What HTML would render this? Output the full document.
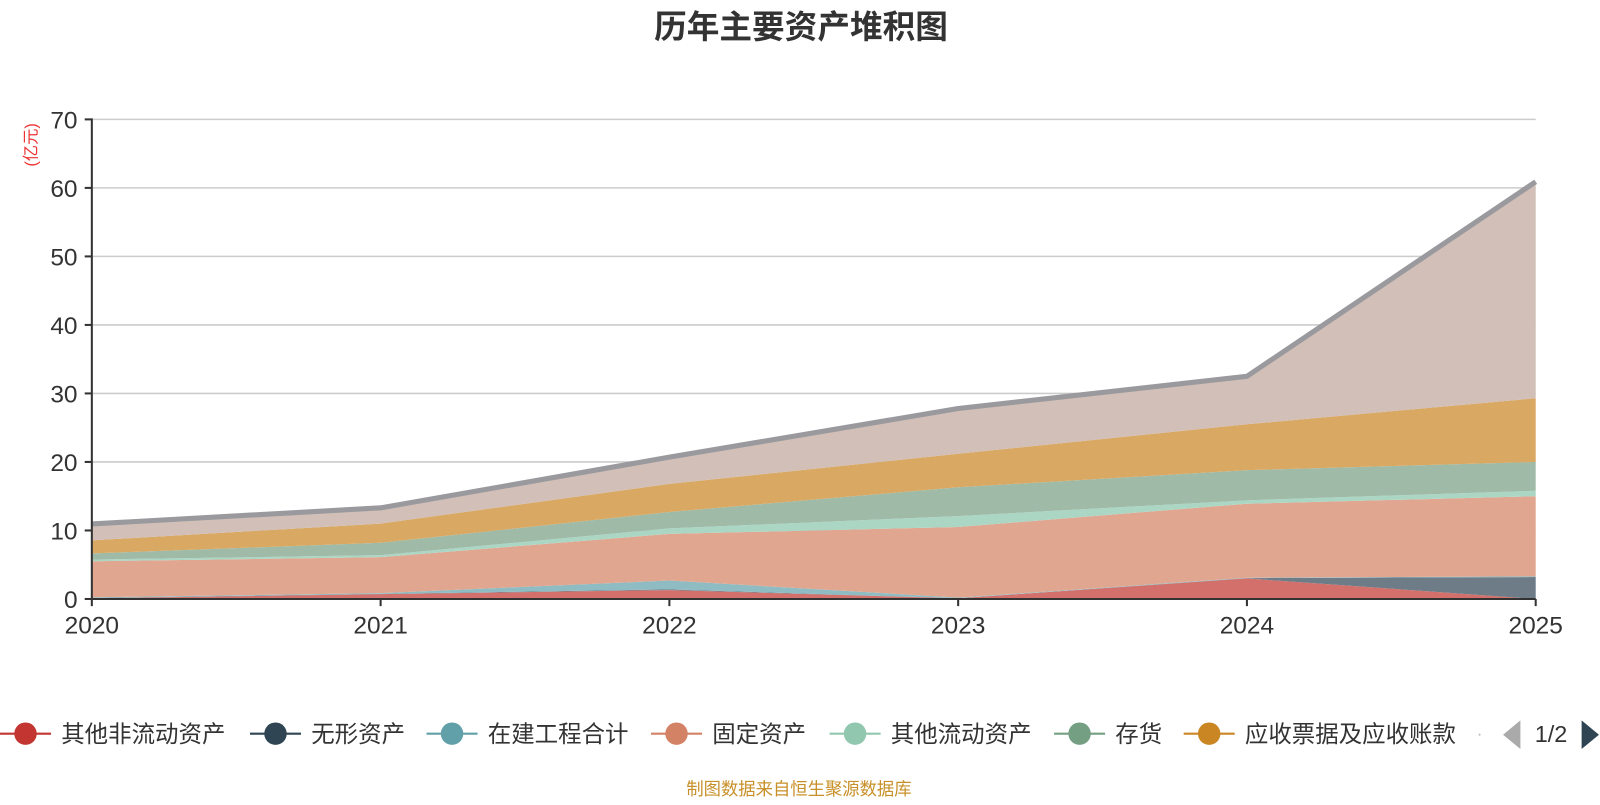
<!DOCTYPE html>
<html><head><meta charset="utf-8">
<style>
html,body{margin:0;padding:0;background:#fff;}
body{width:1600px;height:800px;overflow:hidden;font-family:"Liberation Sans","Noto Sans CJK SC",sans-serif;}
</style></head>
<body>
<svg id="chart" width="1600" height="800" xmlns="http://www.w3.org/2000/svg" font-family="'Liberation Sans','Noto Sans CJK SC',sans-serif">
<g transform="scale(1.0204)">
<text x="785" y="37" text-anchor="middle" font-size="32" font-weight="bold" fill="#333">历年主要资产堆积图</text>
<text transform="translate(36,142) rotate(-90)" text-anchor="middle" font-size="16" fill="#e33">(亿元)</text>
<g id="grid"></g>
<g id="areas"></g>
<g id="axes"></g>
<g id="legend"></g>
<text x="783" y="779" text-anchor="middle" font-size="17" fill="#c8902a">制图数据来自恒生聚源数据库</text>
</g>
</svg>
<script>
const years = ["2020","2021","2022","2023","2024","2025"];
const yTicks = [0,10,20,30,40,50,60,70];
const otherNonCurrent = [0.1,0.7,1.3,0.1,3.0,0];
const intangible = [0.05,0.05,0.1,0,0.05,3.2];
const construction = [0.1,0.1,1.3,0.1,0.05,0.1];
const fixedAssets = [5.25,5.25,6.8,10.3,10.8,11.7];
const otherCurrent = [0.25,0.3,0.8,1.6,0.5,0.8];
const inventory = [0.9,1.8,2.4,4.2,4.4,4.2];
const receivables = [1.9,2.8,4.1,4.9,6.7,9.3];
const cash = [2.4,2.3,3.9,6.6,7.0,31.6];

const NS="http://www.w3.org/2000/svg";
const X0=90,X1=1505,Y0=587,Y1=117,YMAX=70;
const xs=i=>X0+(X1-X0)*i/(years.length-1);
const ys=v=>Y0-(Y0-Y1)*v/YMAX;
function mk(t,a,p){const e=document.createElementNS(NS,t);for(const k in a)e.setAttribute(k,a[k]);p.appendChild(e);return e;}
const grid=document.getElementById('grid'),areas=document.getElementById('areas'),axes=document.getElementById('axes'),legend=document.getElementById('legend');

yTicks.forEach(t=>{
  if(t>0){const l=mk('line',{x1:X0,x2:X1,y1:ys(t),y2:ys(t),stroke:'#ccc','stroke-width':1.5},grid);
  
  }
  const tk=mk('line',{x1:X0-7,x2:X0,y1:ys(t),y2:ys(t),stroke:'#333','stroke-width':2},axes);
  
  
  const tx=mk('text',{x:X0-14,y:ys(t)+9,'text-anchor':'end','font-size':24,fill:'#333'},axes);
  tx.textContent=t;
  
  
});

const series=[
 {name:'其他非流动资产',d:otherNonCurrent,fill:'#d4706b',icon:'#c23531'},
 {name:'无形资产',d:intangible,fill:'#6e7c88',icon:'#2f4554'},
 {name:'在建工程合计',d:construction,fill:'#8fbcc2',icon:'#61a0a8'},
 {name:'固定资产',d:fixedAssets,fill:'#e0a690',icon:'#d48265'},
 {name:'其他流动资产',d:otherCurrent,fill:'#acd6c4',icon:'#91c7ae'},
 {name:'存货',d:inventory,fill:'#9fbba8',icon:'#749f83'},
 {name:'应收票据及应收账款',d:receivables,fill:'#d9a862',icon:'#ca8622'},
 {name:'货币资金',d:cash,fill:'#d1bfb8',icon:'#bda29a'}
];
let base=years.map(()=>0);
series.forEach((s,si)=>{
  const top=base.map((b,i)=>b+s.d[i]);
  let p='M'+years.map((_,i)=>xs(i)+','+ys(top[i])).join(' L');
  for(let i=years.length-1;i>=0;i--)p+=' L'+xs(i)+','+ys(base[i]);
  const a=mk('path',{d:p+' Z',fill:s.fill,stroke:'none'},areas);
  
  
  if(si===series.length-1){
    const l=mk('polyline',{points:years.map((_,i)=>xs(i)+','+ys(top[i])).join(' '),fill:'none',stroke:'#9a9a9e','stroke-width':5,'stroke-linejoin':'round'},areas);
    
    
  }
  base=top;
});

const ya=mk('line',{x1:X0,x2:X0,y1:Y1-1,y2:Y0,stroke:'#333','stroke-width':2},axes);


const xa=mk('line',{x1:X0,x2:X1,y1:Y0,y2:Y0,stroke:'#333','stroke-width':2},axes);


years.forEach((y,i)=>{
  const tk=mk('line',{x1:xs(i),x2:xs(i),y1:Y0,y2:Y0+7,stroke:'#333','stroke-width':2},axes);
  
  
  const tx=mk('text',{x:xs(i),y:Y0+34,'text-anchor':'middle','font-size':24,fill:'#333'},axes);
  tx.textContent=y;
  
  
});

const lx=[0,245,418,638,813,1033,1160];
series.slice(0,7).forEach((s,i)=>{
  const g=mk('g',{},legend);
  
  
  mk('line',{x1:lx[i],x2:lx[i]+50,y1:719,y2:719,stroke:s.icon,'stroke-width':2},g);
  mk('circle',{cx:lx[i]+25,cy:719,r:11,fill:s.icon},g);
  const t=mk('text',{x:lx[i]+60,y:727,'font-size':23,fill:'#333'},g);
  t.textContent=s.name;
});
const dot=mk('circle',{cx:1450,cy:720,r:1,fill:'#bbb'},legend);


const pl=mk('path',{d:'M1490,706 L1490,734 L1473,720 Z',fill:'#aaa'},legend);


const pt=mk('text',{x:1520,y:727,'text-anchor':'middle','font-size':23,fill:'#333'},legend);
pt.textContent='1/2';


const pr=mk('path',{d:'M1550,706 L1550,734 L1567,720 Z',fill:'#2f4554'},legend);


</script>
</body></html>
